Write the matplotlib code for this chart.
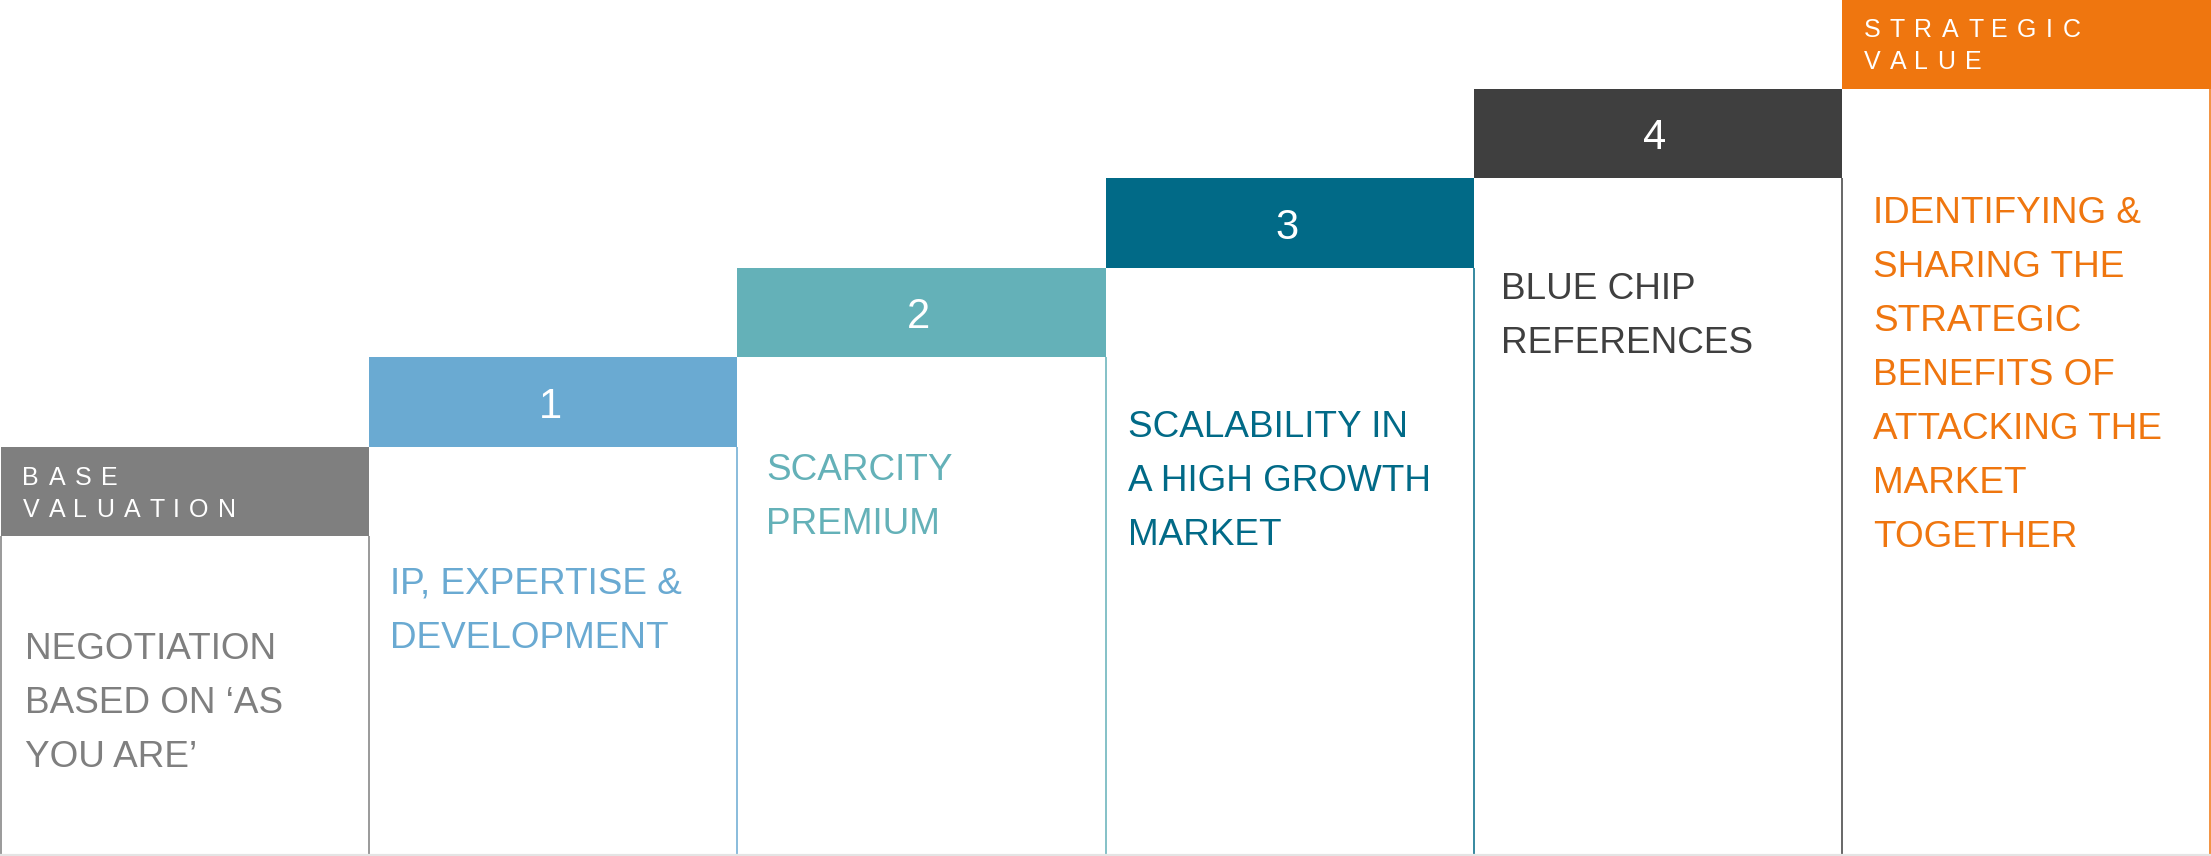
import matplotlib
matplotlib.use("Agg")
import matplotlib.pyplot as plt
from matplotlib.font_manager import FontProperties

# ---------------------------------------------------------------
# valuation ladder: one column per step, left to right
# ---------------------------------------------------------------
steps = [0, 1, 2, 3, 4, 5]
badges = ["BASE\nVALUATION", "1", "2", "3", "4", "STRATEGIC\nVALUE"]
captions = [
    "NEGOTIATION\nBASED ON \u2018AS\nYOU ARE\u2019",
    "IP, EXPERTISE &\nDEVELOPMENT",
    "SCARCITY\nPREMIUM",
    "SCALABILITY IN\nA HIGH GROWTH\nMARKET",
    "BLUE CHIP\nREFERENCES",
    "IDENTIFYING &\nSHARING THE\nSTRATEGIC\nBENEFITS OF\nATTACKING THE\nMARKET\nTOGETHER",
]
colors = ["#7f7f7f", "#6aaad2", "#64b1b8", "#016a87", "#3f3f3f", "#ef760f"]

# ---------------------------------------------------------------
# layout (pixels at dpi 100)
# ---------------------------------------------------------------
W, H, DPI = 2211, 856, 100
COL_W = 368.2          # one column in pixels
STEP_H = 89.5          # header height == rise per step
BASE_BODY = 3.575      # body height of the first column, in steps
LINE_H = 54            # caption line pitch
TRACK = 9.5            # extra letter spacing for the badge labels
cap_dx = [24, 21, 29, 22, 27, 31]        # caption left padding
cap_dy = [123, 147, 123, 169, 121, 134]  # first baseline below header

FONT = "Liberation Sans"

fig = plt.figure(figsize=(W / DPI, H / DPI), dpi=DPI)
ax = fig.add_axes([0, 0, 1, 1])
ax.set_xlim(-1.0 / COL_W, (W - 1.0) / COL_W)
ax.set_ylim(0, H / STEP_H)
ax.axis("off")

body_tops = [BASE_BODY + s for s in steps]
head_w = [1, 1, 1, 1, 1, 1.02]

# white bodies, coloured headers
ax.bar(steps, body_tops, width=1, align="edge", color="white", linewidth=0)
ax.bar(steps, 1, bottom=body_tops, width=head_w, align="edge",
       color=colors, linewidth=0)

# thin outlines of each body
ax.vlines([s + 1 for s in steps], 0, body_tops, colors=colors,
          linewidth=1.3, alpha=0.85)
ax.vlines(0, 0, body_tops[0], colors=colors[0], linewidth=1.3, alpha=0.85)
ax.axhline(0.012, color="#e4e4e4", linewidth=1.6)

renderer = fig.canvas.get_renderer()
badge_prop = FontProperties(family=FONT, size=18)


def spaced_text(x, y, dx, dy, s, prop, color):
    # letter-spaced single line, placed char by char
    for k, ch in enumerate(s):
        off = 0.0
        if k:
            w, _, _ = renderer.get_text_width_height_descent(s[:k], prop, ismath=False)
            off = w + k * TRACK
        ax.annotate(ch, xy=(x, y), xytext=(dx + off, dy),
                    textcoords="offset pixels", fontproperties=prop,
                    color=color, ha="left", va="baseline",
                    annotation_clip=False)


for s, badge, cap, col, top in zip(steps, badges, captions, colors, body_tops):
    head_top = top + 1
    if badge.isdigit():
        ax.annotate(badge, xy=(s + 0.5, top + 0.5), xytext=(-3, -16),
                    textcoords="offset pixels", family=FONT, fontsize=30,
                    color="white", ha="center", va="baseline")
    else:
        for k, line in enumerate(badge.split("\n")):
            spaced_text(s, head_top, 21.5, -38 - 32 * k, line, badge_prop, "white")

    for k, line in enumerate(cap.split("\n")):
        ax.annotate(line, xy=(s, top), xytext=(cap_dx[s], -cap_dy[s] - LINE_H * k),
                    textcoords="offset pixels", family=FONT, fontsize=26.6,
                    color=col, ha="left", va="baseline")

fig.savefig("out.png", dpi=DPI)
